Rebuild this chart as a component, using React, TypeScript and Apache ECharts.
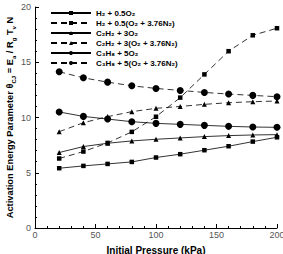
import React, { useEffect, useRef } from "react";
import * as echarts from "echarts";

const pressures = [20, 40, 60, 80, 100, 120, 140, 160, 180, 200];

const h2O2 = [5.41, 5.62, 5.8, 5.98, 6.38, 6.68, 7.04, 7.4, 7.82, 8.21];
const h2Air = [6.29, 6.92, 7.7, 8.7, 10.07, 11.8, 13.9, 16.0, 17.44, 18.08];
const c2h2O2 = [6.83, 7.37, 7.67, 7.88, 8.03, 8.15, 8.27, 8.36, 8.42, 8.45];
const c2h2Air = [8.72, 9.53, 10.08, 10.53, 10.83, 11.0, 11.19, 11.34, 11.43, 11.49];
const c3h8O2 = [10.5, 10.1, 9.86, 9.62, 9.47, 9.38, 9.29, 9.2, 9.14, 9.11];
const c3h8Air = [14.14, 13.59, 13.2, 12.87, 12.63, 12.45, 12.27, 12.12, 12.0, 11.88];

const seriesNames = [
  "H\u2082 + 0.5O\u2082",
  "H\u2082 + 0.5(O\u2082 + 3.76N\u2082)",
  "C\u2082H\u2082 + 3O\u2082",
  "C\u2082H\u2082 + 3(O\u2082 + 3.76N\u2082)",
  "C\u2083H\u2088 + 5O\u2082",
  "C\u2083H\u2088 + 5(O\u2082 + 3.76N\u2082)",
];

const xTicks = [0, 50, 100, 150, 200];
const yTicks = [0, 5, 10, 15, 20];

const FONT = "'Liberation Sans', Arial, sans-serif";

export default function App() {
  const ref = useRef<HTMLDivElement>(null);

  useEffect(() => {
    document.body.style.margin = "0";
    if (!ref.current) return;
    const chart = echarts.init(ref.current, undefined, { renderer: "svg" });

    const mk = (
      name: string,
      data: number[],
      symbol: string,
      size: number,
      dashed: boolean
    ) => ({
      name,
      type: "line",
      data: pressures.map((p, i) => [p, data[i]]),
      symbol,
      symbolSize: size,
      itemStyle: { color: "#000" },
      lineStyle: {
        color: "#000",
        width: 0.8,
        type: dashed ? [6, 4] : "solid",
      },
      z: 3,
    });

    chart.setOption({
      animation: false,
      backgroundColor: "#fff",
      textStyle: { fontFamily: FONT },
      grid: {
        left: 35,
        right: 6,
        top: 7,
        bottom: 26,
        containLabel: false,
        outerBoundsMode: "none",
      },
      legend: {
        orient: "vertical",
        left: 50,
        top: 8,
        itemWidth: 40,
        itemHeight: 5,
        itemGap: 0,
        padding: 0,
        textStyle: {
          fontSize: 8,
          fontWeight: "bold",
          color: "#000",
          fontFamily: FONT,
          lineHeight: 10,
        },
        data: seriesNames,
      },
      xAxis: {
        type: "value",
        min: 0,
        max: 200,
        interval: 50,
        name: "Initial Pressure (kPa)",
        nameLocation: "middle",
        nameGap: 17,
        nameMoveOverlap: false,
        nameTextStyle: { fontSize: 10, fontWeight: "bold", color: "#000", fontFamily: FONT },
        axisLine: { lineStyle: { color: "#000", width: 1 } },
        axisTick: { inside: true, length: 4, lineStyle: { color: "#000" } },
        minorTick: { show: true, splitNumber: 5, length: 2, lineStyle: { color: "#000" } },
        splitLine: { show: false },
        axisLabel: {
          fontSize: 9,
          color: "#555",
          margin: 2,
          showMaxLabel: true,
          formatter: (v: number) => (xTicks.includes(v) ? String(v) : ""),
        },
      },
      yAxis: {
        type: "value",
        min: 0,
        max: 20,
        interval: 5,
        name:
          "{t|Activation Energy Parameter \u03b8}{s|CJ}{t| = E}{s|a}{t| / R}{s|g}{t| T}{s|v}{t| N}",
        nameLocation: "middle",
        nameGap: 18,
        nameMoveOverlap: false,
        nameTextStyle: {
          rich: {
            t: {
              fontSize: 9.3,
              fontWeight: "bold",
              color: "#000",
              fontFamily: FONT,
              lineHeight: 12,
              verticalAlign: "top",
            },
            s: {
              fontSize: 6,
              fontWeight: "bold",
              color: "#000",
              fontFamily: FONT,
              lineHeight: 7,
              verticalAlign: "bottom",
            },
          },
        },
        axisLine: { show: true, lineStyle: { color: "#000", width: 1 } },
        axisTick: { show: true, inside: true, length: 4, lineStyle: { color: "#000" } },
        minorTick: { show: true, splitNumber: 5, length: 2, lineStyle: { color: "#000" } },
        splitLine: { show: false },
        axisLabel: {
          fontSize: 9,
          color: "#555",
          margin: 4,
          formatter: (v: number) => (yTicks.includes(v) ? String(v) : ""),
        },
      },
      series: [
        mk(seriesNames[0], h2O2, "rect", 4.5, false),
        mk(seriesNames[1], h2Air, "rect", 4.5, true),
        mk(seriesNames[2], c2h2O2, "triangle", 5, false),
        mk(seriesNames[3], c2h2Air, "triangle", 5, true),
        mk(seriesNames[4], c3h8O2, "circle", 7, false),
        mk(seriesNames[5], c3h8Air, "circle", 7, true),
      ],
    });

    return () => chart.dispose();
  }, []);

  return <div ref={ref} style={{ width: 283, height: 254 }} />;
}
